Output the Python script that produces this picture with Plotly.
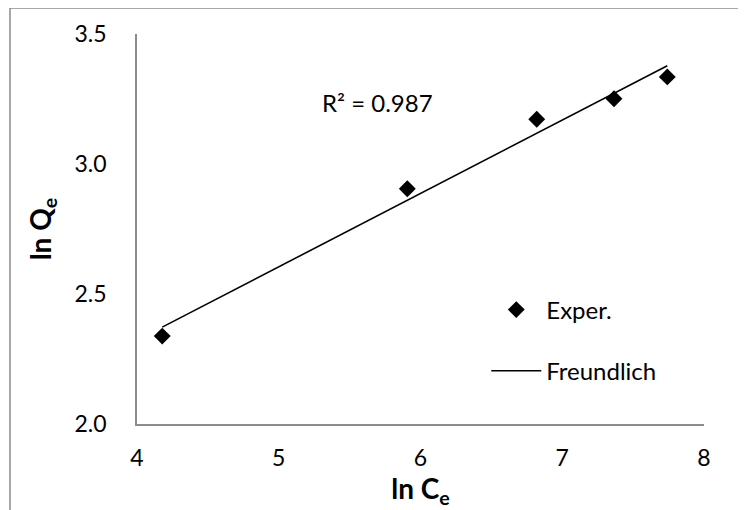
import numpy as np
import plotly.graph_objects as go

# data
ln_ce = [4.178, 5.907, 6.82, 7.365, 7.741]
ln_qe = [2.338, 2.905, 3.172, 3.251, 3.335]
r2_label = "R² = 0.987"

# linear Freundlich fit over the measured points
slope, inter = np.polyfit(ln_ce, ln_qe, 1)
fit_x = [min(ln_ce), max(ln_ce)]
fit_y = [slope * v + inter for v in fit_x]

FONT = "Lato"
GREY = "#8c8c8c"

fig = go.Figure()
fig.add_trace(go.Scatter(x=ln_ce, y=ln_qe, mode="markers", name="Exper.",
                         legendgroup="a",
                         marker=dict(symbol="diamond", size=13, color="black")))
fig.add_trace(go.Scatter(x=fit_x, y=fit_y, mode="lines", name="Freundlich",
                         legendgroup="b",
                         line=dict(color="black", width=1.6)))

fig.update_xaxes(range=[4, 8], dtick=1, showline=True, linecolor=GREY, linewidth=1.5,
                 showgrid=False, zeroline=False, ticks="", ticklabelstandoff=13,
                 title=dict(text="<b>ln C<sub>e</sub></b>", standoff=2))
fig.update_yaxes(range=[2, 3.5], dtick=0.5, tickformat=".1f", showline=True,
                 linecolor=GREY, linewidth=1.5, showgrid=False, zeroline=False,
                 ticks="", ticklabelstandoff=24,
                 title=dict(text="<b>ln Q<sub>e</sub></b>", standoff=15))

fig.add_annotation(x=5.29, y=3.235, xref="x", yref="y", text=r2_label,
                   showarrow=False, xanchor="left", font=dict(size=24))

# outer chart border
fig.add_shape(type="rect", xref="paper", yref="paper",
              x0=-0.224, x1=1.1, y0=-0.26, y1=1.0667,
              line=dict(color=GREY, width=1.5))

fig.update_layout(width=746, height=510,
                  margin=dict(l=129, r=50, t=26, b=94),
                  paper_bgcolor="white", plot_bgcolor="white",
                  font=dict(family=FONT, size=23, color="black"),
                  showlegend=True,
                  legend=dict(x=0.616, y=0.35, xanchor="left", yanchor="top",
                              traceorder="grouped", tracegroupgap=27,
                              itemwidth=50,
                              bgcolor="rgba(0,0,0,0)", font=dict(size=24)))

fig.write_html("out.html")
